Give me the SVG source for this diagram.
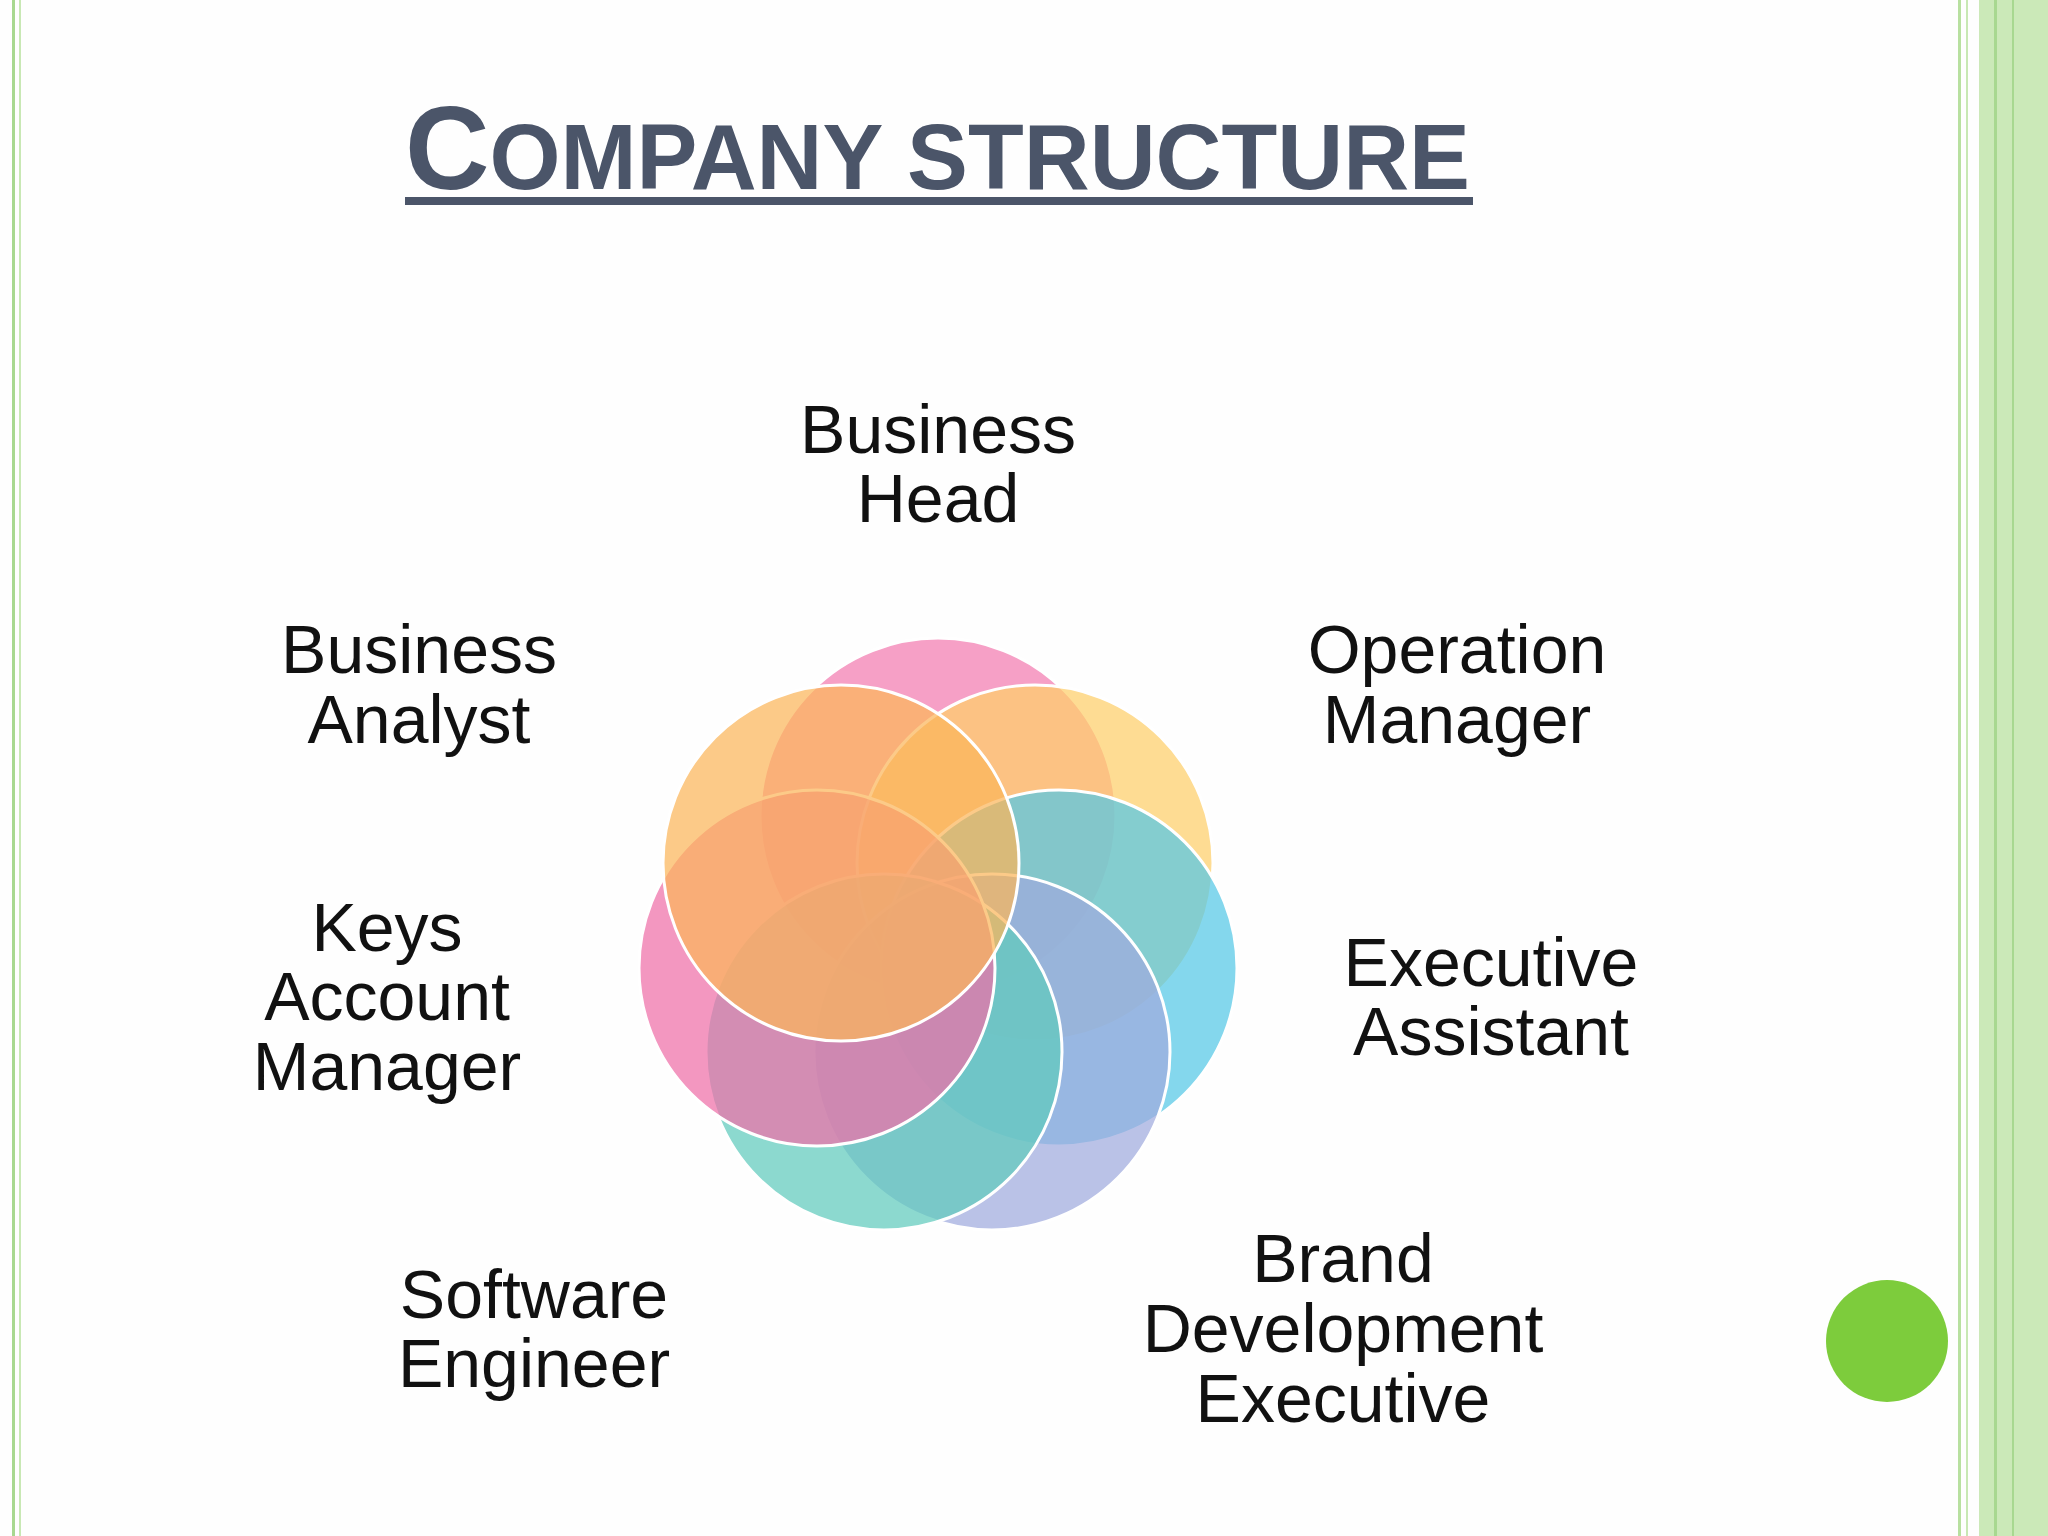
<svg xmlns="http://www.w3.org/2000/svg" width="2048" height="1536" viewBox="0 0 2048 1536">
<style>
.lbl{font-family:"Liberation Sans",Arial,sans-serif;font-size:68px;fill:#111;text-anchor:middle}
.c{stroke:#fff;stroke-width:3;fill-opacity:0.72}
</style>
<rect width="2048" height="1536" fill="#fefefe"/>
<g id="borders">
<rect x="12" y="0" width="3" height="1536" fill="#a8d890"/>
<rect x="19" y="0" width="2" height="1536" fill="#c8e8b4"/>
<rect x="1958" y="0" width="3" height="1536" fill="#b8e0a0"/>
<rect x="1966" y="0" width="2" height="1536" fill="#c8e8b4"/>
<rect x="1979" y="0" width="69" height="1536" fill="#cbe9b8"/>
<rect x="1994" y="0" width="3" height="1536" fill="#a8d890"/>
<rect x="2012" y="0" width="2" height="1536" fill="#a8d890"/>
</g>
<g id="title">
<text x="405" y="189" font-family="Liberation Sans,Arial,sans-serif" font-weight="bold" fill="#4b5569" textLength="1065" lengthAdjust="spacingAndGlyphs"><tspan font-size="118">C</tspan><tspan font-size="92">OMPANY STRUCTURE</tspan></text>
<rect x="405" y="197" width="1068" height="8" fill="#4b5569"/>
</g>
<g id="venn">
<circle class="c" cx="938" cy="816" r="178" fill="#f27bb0"/>
<circle class="c" cx="1035" cy="863" r="178" fill="#fdcf6a"/>
<circle class="c" cx="1059" cy="968" r="178" fill="#55c8e6"/>
<circle class="c" cx="992" cy="1052" r="178" fill="#a0aade"/>
<circle class="c" cx="884" cy="1052" r="178" fill="#5fcabd"/>
<circle class="c" cx="817" cy="968" r="178" fill="#ee6fa8"/>
<circle class="c" cx="841" cy="863" r="178" fill="#fbb55a"/>
</g>
<g id="n1"><text class="lbl" x="938" y="453">Business</text><text class="lbl" x="938" y="522">Head</text></g>
<g id="n2"><text class="lbl" x="419" y="673">Business</text><text class="lbl" x="419" y="743">Analyst</text></g>
<g id="n3"><text class="lbl" x="1457" y="673">Operation</text><text class="lbl" x="1457" y="743">Manager</text></g>
<g id="n4"><text class="lbl" x="387" y="951">Keys</text><text class="lbl" x="387" y="1020">Account</text><text class="lbl" x="387" y="1090">Manager</text></g>
<g id="n5"><text class="lbl" x="1491" y="986">Executive</text><text class="lbl" x="1491" y="1055">Assistant</text></g>
<g id="n6"><text class="lbl" x="534" y="1318">Software</text><text class="lbl" x="534" y="1387">Engineer</text></g>
<g id="n7"><text class="lbl" x="1343" y="1282">Brand</text><text class="lbl" x="1343" y="1352">Development</text><text class="lbl" x="1343" y="1422">Executive</text></g>
<g id="dot"><circle cx="1887" cy="1341" r="61" fill="#7dcc3c"/></g>
<g id="connectors"></g>
</svg>
